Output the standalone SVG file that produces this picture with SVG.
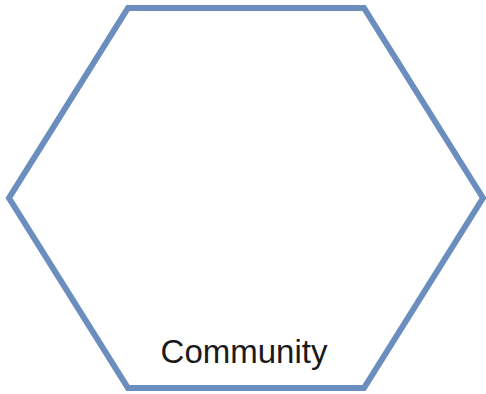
<svg xmlns="http://www.w3.org/2000/svg" width="486" height="394" viewBox="0 0 486 394">
<style>
.hex{fill:#ffffff;stroke:#6c8ebf;stroke-width:6;stroke-linejoin:miter}
.lbl{font-family:"Liberation Sans",Arial,sans-serif;font-size:33px;fill:#1a1a1a;text-anchor:middle}
</style>
<rect width="486" height="394" fill="#ffffff"/>
<g id="community">
<polygon class="hex" points="128,8 364,8 483,198 364,388 128,388 9,198"/>
<text class="lbl" x="244" y="363">Community</text>
</g>
<g id="connectors"></g>
</svg>
